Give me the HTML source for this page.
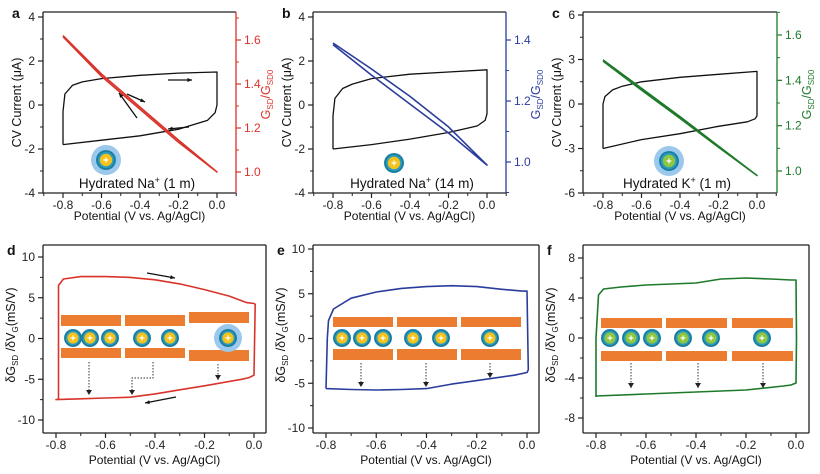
<!DOCTYPE html>
<html><head><meta charset="utf-8">
<style>
html,body{margin:0;padding:0;background:#fff;}
svg{display:block;font-family:"Liberation Sans",Arial,sans-serif;}
</style></head>
<body>
<svg id="fig" width="820" height="474" viewBox="0 0 820 474"></svg>
<script>
// ---- Data ----
const xTicksTop = [-0.8,-0.6,-0.4,-0.2,0.0];
const xTickLabelsTop = ["-0.8","-0.6","-0.4","-0.2","0.0"];
const yTicksA = [4,2,0,-2,-4];
const yTicksC = [6,3,0,-3,-6];
const rTicksA = [1.0,1.2,1.4,1.6];
const rTicksB = [1.0,1.2,1.4];
const rTicksC = [1.0,1.2,1.4,1.6];
const yTicksD = [10,5,0,-5,-10];
const yTicksF = [8,4,0,-4,-8];

const cvAx = [-0.8,-0.8,-0.79,-0.75,-0.7,-0.6,-0.4,-0.2,0,0,-0.01,-0.05,-0.2,-0.4,-0.6,-0.8];
const cvAy = [-1.8,-0.3,0.5,0.9,1.05,1.2,1.35,1.45,1.5,0,-0.35,-0.7,-1.1,-1.4,-1.6,-1.8];
const gAx = [-0.8,-0.6,-0.4,-0.2,0,-0.2,-0.4,-0.6,-0.8];
const gAy = [1.62,1.445,1.295,1.145,1.0,1.135,1.285,1.435,1.615];

const cvBx = [-0.8,-0.8,-0.79,-0.75,-0.7,-0.6,-0.4,-0.2,0,0,-0.01,-0.05,-0.2,-0.4,-0.6,-0.8];
const cvBy = [-2.0,-0.5,0.3,0.75,0.95,1.2,1.4,1.5,1.6,-0.4,-0.7,-0.95,-1.25,-1.55,-1.8,-2.0];
const gBx = [-0.8,-0.6,-0.4,-0.2,0,-0.2,-0.4,-0.6,-0.8];
const gBy = [1.39,1.305,1.215,1.115,0.99,1.095,1.19,1.285,1.385];

const cvCx = [-0.8,-0.8,-0.79,-0.75,-0.7,-0.6,-0.4,-0.2,0,0,-0.01,-0.05,-0.2,-0.4,-0.6,-0.8];
const cvCy = [-3.0,0,0.5,0.95,1.2,1.5,1.8,2.0,2.2,-0.8,-1.0,-1.2,-1.5,-2.0,-2.4,-3.0];
const gCx = [-0.8,-0.6,-0.4,-0.2,0,-0.2,-0.4,-0.6,-0.8];
const gCy = [1.49,1.365,1.24,1.11,0.98,1.105,1.232,1.357,1.485];

const dx = [-0.79,-0.79,-0.77,-0.7,-0.6,-0.5,-0.4,-0.3,-0.2,-0.1,-0.03,0,0.005,0,-0.02,-0.05,-0.2,-0.3,-0.4,-0.5,-0.6,-0.7,-0.8,-0.79];
const dy = [-7.5,6.5,7.3,7.6,7.6,7.5,7.2,6.7,6.0,5.2,4.4,4.3,4.2,-4.5,-4.8,-5.0,-5.8,-6.3,-6.8,-7.2,-7.3,-7.4,-7.5,-7.5];
const ex = [-0.8,-0.795,-0.79,-0.77,-0.7,-0.6,-0.5,-0.4,-0.3,-0.2,-0.1,-0.02,0,0.005,0,-0.05,-0.2,-0.3,-0.4,-0.5,-0.6,-0.7,-0.8];
const ey = [-5.6,0,2,3.3,4.5,5.2,5.6,5.8,5.9,5.8,5.5,5.3,5.3,-3.5,-3.8,-4.1,-4.7,-5.1,-5.6,-5.7,-5.75,-5.7,-5.6];
const fx = [-0.8,-0.8,-0.79,-0.77,-0.7,-0.6,-0.5,-0.4,-0.3,-0.2,-0.1,-0.02,0,0.002,0,-0.02,-0.05,-0.2,-0.4,-0.6,-0.8,-0.8];
const fy = [-5.9,0,4.3,4.9,5.1,5.3,5.4,5.5,5.9,6.0,5.9,5.8,5.8,0,-4.5,-4.7,-4.8,-5.2,-5.4,-5.6,-5.8,-5.9];

// ---- Helpers ----
const NS="http://www.w3.org/2000/svg";
const svg=document.getElementById('fig');
function el(tag,attrs,parent){const e=document.createElementNS(NS,tag);for(const k in attrs)e.setAttribute(k,attrs[k]);(parent||svg).appendChild(e);return e;}
function lin(v1,p1,v2,p2){return v=>p1+(v-v1)*(p2-p1)/(v2-v1);}
function txt(x,y,s,size,anchor,fill,parent){const t=el('text',{x:x,y:y,'font-size':size,'text-anchor':anchor||'middle',fill:fill||'#222'},parent);t.textContent=s;return t;}
function path(xs,ys,sx,sy,color,w,parent){let d='';for(let i=0;i<xs.length;i++){d+=(i?'L':'M')+sx(xs[i]).toFixed(1)+','+sy(ys[i]).toFixed(1);}return el('path',{d:d,fill:'none',stroke:color,'stroke-width':w,'stroke-linejoin':'round'},parent);}

function axesBox(g,L,R,T,B,rightColor){
  el('line',{x1:L,y1:T,x2:R,y2:T,stroke:'#222','stroke-width':1.3},g);
  el('line',{x1:L,y1:B,x2:R,y2:B,stroke:'#222','stroke-width':1.3},g);
  el('line',{x1:L,y1:T,x2:L,y2:B,stroke:'#222','stroke-width':1.3},g);
  el('line',{x1:R,y1:T,x2:R,y2:B,stroke:rightColor||'#222','stroke-width':1.3},g);
}
function xAxis(g,sx,B,ticks,labels,L,R){
  ticks.forEach((t,i)=>{const x=sx(t);
    el('line',{x1:x,y1:B,x2:x,y2:B+5,stroke:'#222','stroke-width':1.2},g);
    const lbl=txt(x,B+16,labels[i],12,'middle','#222',g);
    
    
  });
  [ticks[0]-0.1].concat(ticks.map(t=>t+0.1)).forEach(v=>{const xm=sx(v);if(xm>=L-0.5&&xm<=R+0.5)el('line',{x1:xm,y1:B,x2:xm,y2:B+3,stroke:'#222','stroke-width':1},g);});
}
function yAxis(g,sy,L,ticks){
  ticks.forEach(t=>{const y=sy(t);
    el('line',{x1:L-5,y1:y,x2:L,y2:y,stroke:'#222','stroke-width':1.2},g);
    const lbl=txt(L-8,y+4,String(t),12,'end','#222',g);
    
    
  });
  for(let i=0;i<ticks.length-1;i++){const y=sy((ticks[i]+ticks[i+1])/2);el('line',{x1:L-3,y1:y,x2:L,y2:y,stroke:'#222','stroke-width':1},g);}
}
function rAxis(g,sr,R,ticks,color,T,B){
  ticks.forEach(t=>{const y=sr(t);
    el('line',{x1:R,y1:y,x2:R+5,y2:y,stroke:color,'stroke-width':1.2},g);
    const lbl=txt(R+8,y+4,t.toFixed(1),12,'start',color,g);
    
    
  });
  [ticks[0]-0.1].concat(ticks.map(t=>t+0.1)).forEach(v=>{const y=sr(v);if(y>=T&&y<=B)el('line',{x1:R,y1:y,x2:R+3,y2:y,stroke:color,'stroke-width':1},g);});
}
function rotLabel(g,x,y,parts,color){
  const t=el('text',{x:0,y:0,'font-size':12.5,'text-anchor':'middle',fill:color,transform:`translate(${x},${y}) rotate(-90)`},g);
  parts.forEach(p=>{const s=el('tspan',{},t);s.textContent=p[0];if(p[1]==='sub'){s.setAttribute('font-size','8');s.setAttribute('dy','3');}else if(p[1]==='back'){s.setAttribute('dy','-3');}});
  return t;
}
function arrow(g,x1,y1,x2,y2){
  el('line',{x1:x1,y1:y1,x2:x2,y2:y2,stroke:'#111','stroke-width':1.3},g);
  const a=Math.atan2(y2-y1,x2-x1),h=5;
  el('path',{d:`M${x2},${y2}L${x2-h*Math.cos(a-0.4)},${y2-h*Math.sin(a-0.4)}L${x2-h*Math.cos(a+0.4)},${y2-h*Math.sin(a+0.4)}Z`,fill:'#111'},g);
}
function dashArrow(g,pts){
  let d='';pts.forEach((p,i)=>d+=(i?'L':'M')+p[0]+','+p[1]);
  el('path',{d:d,fill:'none',stroke:'#333','stroke-width':1,'stroke-dasharray':'1.5,1.5'},g);
  const p=pts[pts.length-1];
  el('path',{d:`M${p[0]-3},${p[1]-5}L${p[0]+3},${p[1]-5}L${p[0]},${p[1]}Z`,fill:'#222'},g);
}
function ion(g,x,y,inner,halo,r){
  r=r||9;
  if(halo) el('circle',{cx:x,cy:y,r:r+5,fill:'#9cc8ec'},g);
  el('circle',{cx:x,cy:y,r:r,fill:'#1e86c8'},g);
  el('circle',{cx:x,cy:y,r:r-1.2,fill:'#2a9bc0',stroke:'#1d7a8c','stroke-width':1.2},g);
  el('circle',{cx:x,cy:y,r:r*0.62,fill:inner},g);
  el('path',{d:`M${x-2.5},${y}H${x+2.5}M${x},${y-2.5}V${y+2.5}`,stroke:'#fff','stroke-width':1.2},g);
}
function bar(g,x1,x2,y1,y2){const b=el('rect',{x:x1,y:y1,width:x2-x1,height:y2-y1,fill:'#ec7c30'},g);}

// ---- Top panels ----
function topPanel(id,L,R,xZero,yTop,yBot,vTop,vBot,yTicks,rTop,rBot,rvTop,rvBot,rTicks,color,cvx,cvy,gx,gy,letter,ionX,ionY,inner,halo,label,labelX){
  const g=el('g',{});
  
  
  const T=12,B=193;
  const sx=lin(-0.8,xZero-154,0,xZero);
  const sy=lin(vTop,yTop,vBot,yBot);
  const sr=lin(rvTop,rTop,rvBot,rBot);
  axesBox(g,L,R,T,B,color);
  xAxis(g,sx,B,xTicksTop,xTickLabelsTop,L,R);
  yAxis(g,sy,L,yTicks);
  rAxis(g,sr,R,rTicks,color,T,B);
  const cv=path(cvx,cvy,sx,sy,'#111',1.3,g);
  
  
  const gl=path(gx,gy,sx,sr,color,1.6,g);
  
  
  const lt=txt(L-31,T+6,letter,14,'start','#111',g);lt.setAttribute('font-weight','bold');
  
  
  const yt=rotLabel(g,L-22,(T+B)/2,[['CV Current (μA)']],'#111');
  
  
  const rt=rotLabel(g,R+34,(T+B)/2-8,[['G'],['SD','sub'],['/G','back'],['SD0','sub']],color);
  
  
  const xt=txt((L+R)/2,220,'Potential (V vs. Ag/AgCl)',12,'middle','#111',g);
  
  
  const ig=el('g',{},g);
  
  
  ion(ig,ionX,ionY,inner,halo,10);
  const it=el('text',{x:labelX,y:188,'font-size':13.5,'text-anchor':'middle',fill:'#111'},g);
  it.innerHTML=label;
  
  
  return g;
}
const gA=topPanel('a',43,236,217,17,193,4,-4,yTicksA,172,40,1.0,1.6,rTicksA,'#d9342b',cvAx,cvAy,gAx,gAy,'a',106,160,'#f4c21a',true,'Hydrated Na<tspan font-size="9" dy="-5">+</tspan><tspan dy="5"> (1 m)</tspan>',137);
arrow(gA,168,80,192,80);arrow(gA,127,94,145,102);arrow(gA,137,118,119,93);arrow(gA,189,127,168,129);
topPanel('b',313,506,487,17,193,4,-4,yTicksA,162,40,1.0,1.4,rTicksB,'#2b3d9c',cvBx,cvBy,gBx,gBy,'b',394,163,'#f4c21a',false,'Hydrated Na<tspan font-size="9" dy="-5">+</tspan><tspan dy="5"> (14 m)</tspan>',412);
topPanel('c',583,777,757,15,193,6,-6,yTicksC,171,35,1.0,1.6,rTicksC,'#1e7a2a',cvCx,cvCy,gCx,gCy,'c',669,161,'#8dc63f',true,'Hydrated K<tspan font-size="9" dy="-5">+</tspan><tspan dy="5"> (1 m)</tspan>',677);

// ---- Bottom panels ----
function botPanel(id,L,R,xm8,x0,vTop,yTop,vBot,yBot,yTicks,color,xs,ys,letter){
  const g=el('g',{});
  
  
  const T=245,B=433;
  const sx=lin(-0.8,xm8,0,x0);
  const sy=lin(vTop,yTop,vBot,yBot);
  axesBox(g,L,R,T,B,'#222');
  xAxis(g,sx,B,xTicksTop,xTickLabelsTop,L,R);
  yAxis(g,sy,L,yTicks);
  const lp=path(xs,ys,sx,sy,color,1.6,g);
  
  
  const lt=txt(L-36,T+10,letter,14,'start','#111',g);lt.setAttribute('font-weight','bold');
  
  
  const yt=rotLabel(g,L-28,(T+B)/2-4,[['δG'],['SD','sub'],[' /δV','back'],['G','sub'],['(mS/V)','back']],'#111');
  
  
  const xt=txt((L+R)/2,464,'Potential (V vs. Ag/AgCl)',12,'middle','#111',g);
  
  
  return g;
}
const gD=botPanel('d',43,266,56,254,10,257,-10,420,yTicksD,'#d9342b',dx,dy,'d');
bar(gD,61,121,315,326);bar(gD,61,121,348,358);
bar(gD,125,185,315,326);bar(gD,125,185,348,358);
bar(gD,189,249,312,323);bar(gD,189,249,350,361);
[73,90,110,142,170].forEach(x=>ion(gD,x,338,'#f4c21a',false,9));
ion(gD,228,338,'#f4c21a',true,9);
dashArrow(gD,[[89,362],[89,395]]);
dashArrow(gD,[[153,362],[153,378],[132,378],[132,395]]);
dashArrow(gD,[[218,364],[218,380]]);
arrow(gD,147,273,175,278);arrow(gD,176,397,145,403);

const gE=botPanel('e',313,539,326,527,10,249,-10,428,yTicksD,'#2b3d9c',ex,ey,'e');
bar(gE,333,393,317,327);bar(gE,333,393,349,360);
bar(gE,397,457,317,327);bar(gE,397,457,349,360);
bar(gE,461,521,317,327);bar(gE,461,521,349,360);
[342,362,383,413,441,490].forEach(x=>ion(gE,x,338,'#f4c21a',false,9));
dashArrow(gE,[[361,363],[361,387]]);dashArrow(gE,[[426,363],[426,387]]);dashArrow(gE,[[490,363],[490,378]]);

const gF=botPanel('f',583,809,596,796,8,258,-8,418,yTicksF,'#1e7a2a',fx,fy,'f');
bar(gF,601,662,318,328);bar(gF,601,662,351,361);
bar(gF,666,727,318,328);bar(gF,666,727,351,361);
bar(gF,732,793,318,328);bar(gF,732,793,351,361);
[610,631,652,683,711,762].forEach(x=>ion(gF,x,338,'#8dc63f',false,9));
dashArrow(gF,[[631,363],[631,388]]);dashArrow(gF,[[698,363],[698,388]]);dashArrow(gF,[[763,363],[763,388]]);
</script>
</body></html>
